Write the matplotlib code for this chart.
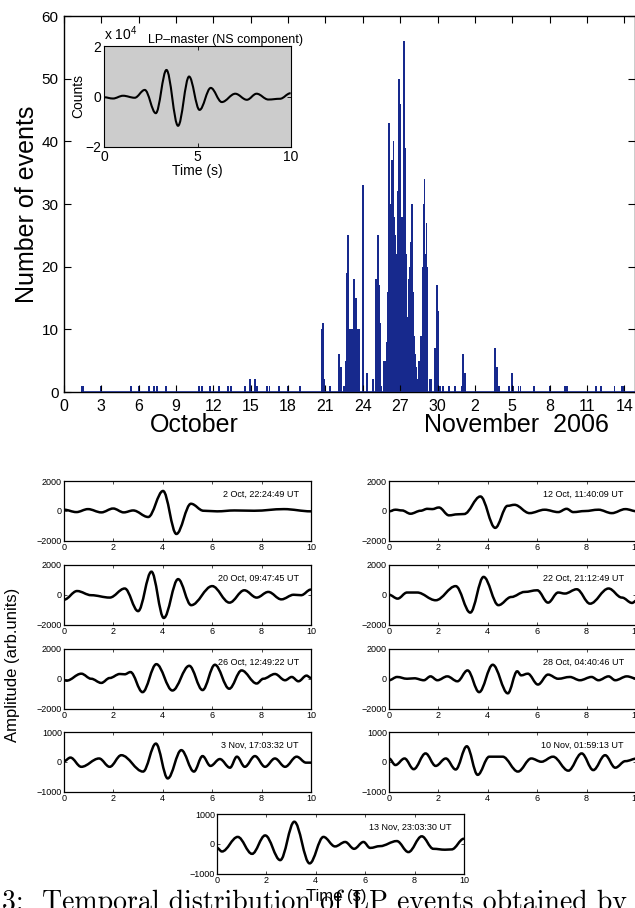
import numpy as np
import matplotlib
matplotlib.use("Agg")
import matplotlib.pyplot as plt
from matplotlib.path import Path
from matplotlib.patches import PathPatch

plt.rcParams['font.family'] = ['Liberation Sans', 'DejaVu Sans']
plt.rcParams['mathtext.fontset'] = 'custom'
plt.rcParams['mathtext.rm'] = 'Liberation Sans'

# ---- histogram of LP events (days counted from 30 Sep 2006) ----
event_day = [1.45, 1.53, 2.97, 5.38, 6.02, 6.83, 7.23, 7.47, 8.19, 10.84, 11.08,
             11.73, 12.45, 13.17, 13.41, 14.54, 14.94, 15.34, 15.50, 16.30, 16.47,
             17.27, 17.99, 18.88, 18.96,
             20.72, 20.80, 20.88, 21.29, 21.37, 22.09, 22.25, 22.49, 22.65, 22.73,
             22.81, 22.89, 22.97, 23.13, 23.29, 23.45, 23.61, 23.70, 23.94, 24.02,
             24.34, 24.82, 25.06, 25.22, 25.30, 25.38, 25.46, 25.70,
             25.86, 25.94, 26.02, 26.10, 26.18, 26.27, 26.35, 26.43, 26.51, 26.59,
             26.67, 26.75, 26.83, 26.91, 26.99, 27.07, 27.15, 27.23, 27.31, 27.39,
             27.47, 27.55, 27.63, 27.71, 27.79, 27.87, 27.95, 28.03, 28.11, 28.19,
             28.27, 28.35, 28.51, 28.59, 28.67, 28.76, 28.84, 28.92, 29.00, 29.08,
             29.16, 29.32, 29.48, 29.80, 29.96, 30.04, 30.20, 30.44, 30.92, 31.40,
             31.89, 32.05, 32.21,
             34.62, 34.78, 34.94, 35.74, 35.98, 36.06, 36.47, 36.63, 37.75, 38.96,
             40.24, 40.40, 42.73, 43.13, 44.18, 44.82, 44.90]
event_count = [1, 1, 1, 1, 1, 1, 1, 1, 1, 1, 1,
               1, 1, 1, 1, 1, 2, 2, 1, 1, 1,
               1, 1, 1, 1,
               10, 11, 2, 1, 1, 6, 4, 1, 5, 19,
               25, 10, 10, 10, 18, 15, 10, 10, 33, 33,
               3, 2, 18, 25, 17, 11, 1, 5,
               5, 8, 16, 43, 30, 37, 37, 40, 28, 25,
               22, 27, 32, 50, 46, 24, 28, 23, 56, 39,
               22, 7, 12, 18, 20, 24, 30, 16, 9, 6,
               4, 2, 5, 3, 9, 20, 30, 34, 22, 27,
               20, 2, 2, 7, 17, 13, 1, 1, 1, 1,
               1, 6, 3,
               7, 4, 1, 1, 3, 1, 1, 1, 1, 1,
               1, 1, 1, 1, 1, 1, 1]
day_ticks = list(range(0, 46, 3))
day_labels = ['0', '3', '6', '9', '12', '15', '18', '21', '24', '27', '30',
              '2', '5', '8', '11', '14']
DAY_MAX = 45.9

# ---- inset: LP master (NS component), counts x 1e4, extrema ----
master_t = [0, 0.48, 1.02, 1.64, 2.18, 2.77, 3.34, 3.96, 4.55, 5.11, 5.71, 6.3,
            7.02, 7.64, 8.16, 8.79, 9.41, 9.98]
master_v = [-0.03, -0.08, 0.03, -0.05, 0.26, -0.66, 1.05, -1.16, 0.79, -0.53, 0.34,
            -0.22, 0.11, -0.13, 0.11, -0.12, -0.09, 0.13]

oct02_t = [0, 0.5, 0.97, 1.51, 1.99, 2.42, 2.8, 3.41, 4.01, 4.55, 5.14, 5.65, 6.2,
           6.9, 7.7, 8.9, 10]
oct02_v = [70, -90, 110, -110, 150, -110, 20, -420, 1330, -1560, 470, 0, -40,
           20, 0, 110, -40]
oct20_t = [0, 0.53, 1.1, 1.85, 2.46, 3.0, 3.54, 4.04, 4.62, 5.15, 6.0, 6.7, 7.3,
           7.8, 8.27, 8.8, 9.3, 9.6, 10]
oct20_v = [-330, 250, -30, -190, 420, -1100, 1550, -1560, 1050, -700, 580, -530,
           300, -190, 190, -310, 0, -30, 350]
oct26_t = [0, 0.1, 0.7, 1.1, 1.51, 1.85, 2.26, 2.46, 2.69, 3.18, 3.74, 4.39, 5.07,
           5.61, 6.11, 6.69, 7.19, 7.8, 8.07, 8.54, 8.95, 9.22, 9.49, 9.82, 10]
oct26_v = [-100, -130, 340, 0, -280, 50, 320, 300, 450, -900, 980, -790, 870,
           -760, 940, -670, 560, -320, 0, 320, -100, 120, -170, 210, 50]
nov03_t = [0, 0.26, 0.7, 1.42, 1.85, 2.32, 3.2, 3.72, 4.2, 4.75, 5.26, 5.61, 5.93,
           6.31, 6.72, 7.0, 7.32, 7.73, 8.14, 8.54, 8.95, 9.42, 9.8, 10]
nov03_v = [20, 140, -170, 110, -170, 220, -330, 610, -560, 390, -330, 190, -140,
           90, -200, 170, -170, 190, -170, 110, -170, 170, -30, -30]
oct12_t = [0, 0.26, 0.53, 0.87, 1.28, 1.55, 1.75, 2.02, 2.43, 2.77, 3.04, 3.7, 4.3,
           4.8, 5.08, 5.69, 6.3, 6.85, 7.19, 7.46, 7.93, 8.48, 9.02, 9.57, 10.04]
oct12_v = [-40, 70, 20, -200, 0, 130, 110, 220, -310, -240, -220, 960, -1150,
           330, 400, -160, 70, -90, 130, -90, -20, 70, -160, 110, -40]
oct22_t = [0, 0.35, 0.73, 1.14, 1.89, 2.7, 3.29, 3.83, 4.43, 4.95, 5.49, 6.0, 6.44,
           6.85, 7.12, 7.6, 8.14, 8.89, 9.43, 9.84, 10.04]
oct22_v = [0, -260, 150, 150, -370, 580, -1200, 1200, -700, -150, 190, 300, -530,
           150, 80, 370, -600, 420, -190, -550, -370]
oct28_t = [0, 0.33, 0.73, 1.03, 1.41, 1.68, 1.96, 2.36, 2.77, 3.18, 3.65, 4.2, 4.81,
           5.19, 5.35, 5.62, 6.03, 6.44, 6.85, 7.32, 7.73, 8.2, 8.48, 8.89, 9.16,
           9.63, 10.04]
oct28_v = [-100, 120, 0, 30, -100, 160, -100, 160, -170, 560, -900, 940, -980,
           500, 230, 340, -390, 280, 0, 120, -100, 120, -100, 160, -100, 160, 0]
nov10_t = [0, 0.26, 0.63, 1.0, 1.48, 1.89, 2.3, 2.7, 3.15, 3.59, 4.06, 4.6, 5.22,
           5.76, 6.17, 6.64, 7.26, 7.8, 8.27, 8.75, 9.16, 9.57, 10.04]
nov10_v = [110, -110, 110, -250, 280, -140, 110, -260, 520, -440, 170, 170, -330,
           110, 0, 170, -300, 280, -280, 220, -200, 20, 110]
nov13_t = [0, 0.2, 0.84, 1.42, 1.95, 2.56, 3.13, 3.75, 4.31, 4.78, 5.19, 5.55, 5.93,
           6.2, 6.6, 7.28, 7.75, 8.29, 8.76, 9.23, 9.5, 10]
nov13_v = [-140, -260, 230, -340, 280, -550, 740, -660, 230, -90, 60, -170, 60,
           -140, -80, 90, -280, 250, -170, -200, -190, 170]

panels = [
    # (col x px, top y px, times, values, ylim, label)
    (64, 481, oct02_t, oct02_v, 2000, '2 Oct, 22:24:49 UT'),
    (64, 565, oct20_t, oct20_v, 2000, '20 Oct, 09:47:45 UT'),
    (64, 649, oct26_t, oct26_v, 2000, '26 Oct, 12:49:22 UT'),
    (64, 732, nov03_t, nov03_v, 1000, '3 Nov, 17:03:32 UT'),
    (389, 481, oct12_t, oct12_v, 2000, '12 Oct, 11:40:09 UT'),
    (389, 565, oct22_t, oct22_v, 2000, '22 Oct, 21:12:49 UT'),
    (389, 649, oct28_t, oct28_v, 2000, '28 Oct, 04:40:46 UT'),
    (389, 732, nov10_t, nov10_v, 1000, '10 Nov, 01:59:13 UT'),
    (217, 814, nov13_t, nov13_v, 1000, '13 Nov, 23:03:30 UT'),
]

W, H = 635, 908
BAR_COLOR = '#17298D'


def fig_rect(x0, y0, w, h):
    return [x0 / W, 1 - (y0 + h) / H, w / W, h / H]


def smooth_path(ts, vs):
    # cubic segments between extrema, flat tangents at each extremum
    verts = [(ts[0], vs[0])]
    codes = [Path.MOVETO]
    for i in range(1, len(ts)):
        dt = ts[i] - ts[i - 1]
        verts += [(ts[i - 1] + 0.36 * dt, vs[i - 1]),
                  (ts[i] - 0.36 * dt, vs[i]),
                  (ts[i], vs[i])]
        codes += [Path.CURVE4] * 3
    return Path(verts, codes)


fig = plt.figure(figsize=(W / 100, H / 100), dpi=100)

# ---- main histogram ----
ax = fig.add_axes(fig_rect(64, 16, 571.5, 376))
ax.bar(event_day, event_count, width=0.09, color=BAR_COLOR, linewidth=0)
ax.hlines(0, min(event_day), DAY_MAX, color=BAR_COLOR, lw=1.2, zorder=3)
ax.set_xlim(0, DAY_MAX)
ax.set_ylim(0, 60)
ax.set_xticks(day_ticks)
ax.set_xticklabels(day_labels)
ax.set_yticks(range(0, 61, 10))
ax.tick_params(direction='in', top=True, right=True, length=5, width=0.8,
               labelsize=11.5, pad=5)
ax.tick_params(axis='y', labelsize=11, pad=4)
for s in ax.spines.values():
    s.set_linewidth(1.0)
fig.text(27 / W, 1 - 204 / H, 'Number of events', fontsize=18, rotation=90,
         ha='center', va='center')
fig.text(194 / W, 1 - 425 / H, 'October', fontsize=18, ha='center', va='center')
fig.text(516 / W, 1 - 425 / H, 'November  2006', fontsize=18, ha='center',
         va='center')

# ---- inset ----
ins = fig.add_axes(fig_rect(104, 46, 187, 101))
ins.set_facecolor('#cccccc')
ins.add_patch(PathPatch(smooth_path(master_t, master_v), fill=False, ec='k', lw=1.5))
ins.set_xlim(0, 10)
ins.set_ylim(-2, 2)
ins.set_xticks([0, 5, 10])
ins.set_yticks([-2, 0, 2])
ins.tick_params(direction='in', top=True, right=True, length=3, width=0.6,
                labelsize=10, pad=2)
ins.set_xlabel('Time (s)', fontsize=10, labelpad=0)
ins.set_ylabel('Counts', fontsize=10, labelpad=0)
fig.text(104 / W, 1 - 34 / H, 'x 10$^4$', fontsize=10, ha='left', va='center')
fig.text(225 / W, 1 - 40 / H, 'LP\u2013master (NS component)', fontsize=9,
         ha='center', va='center')

# ---- waveform panels ----
for x0, y0, ts, vs, lim, label in panels:
    a = fig.add_axes(fig_rect(x0, y0, 247, 59.5))
    a.add_patch(PathPatch(smooth_path(ts, vs), fill=False, ec='k', lw=1.8))
    a.set_xlim(0, 10)
    a.set_ylim(-lim, lim)
    a.set_xticks(range(0, 11, 2))
    a.set_yticks([-lim, 0, lim])
    a.tick_params(direction='in', top=True, right=True, length=2.5, width=0.5,
                  labelsize=6.5, pad=1.5)
    for s in a.spines.values():
        s.set_linewidth(0.9)
    a.text(0.95, 0.78, label, transform=a.transAxes, fontsize=6.5,
           ha='right', va='center')

fig.text(13 / W, 1 - 665 / H, 'Amplitude (arb.units)', fontsize=12,
         rotation=90, ha='center', va='center')
fig.text(336 / W, 1 - 896 / H, 'Time (s)', fontsize=12, ha='center',
         va='center')

# caption line of the page, cut by the lower edge
fig.text(2 / W, 1 - 910 / H,
         '3:  Temporal distribution of LP events obtained by',
         fontsize=20, family='cmr10', ha='left', va='baseline')

fig.savefig('out.png', dpi=100)
